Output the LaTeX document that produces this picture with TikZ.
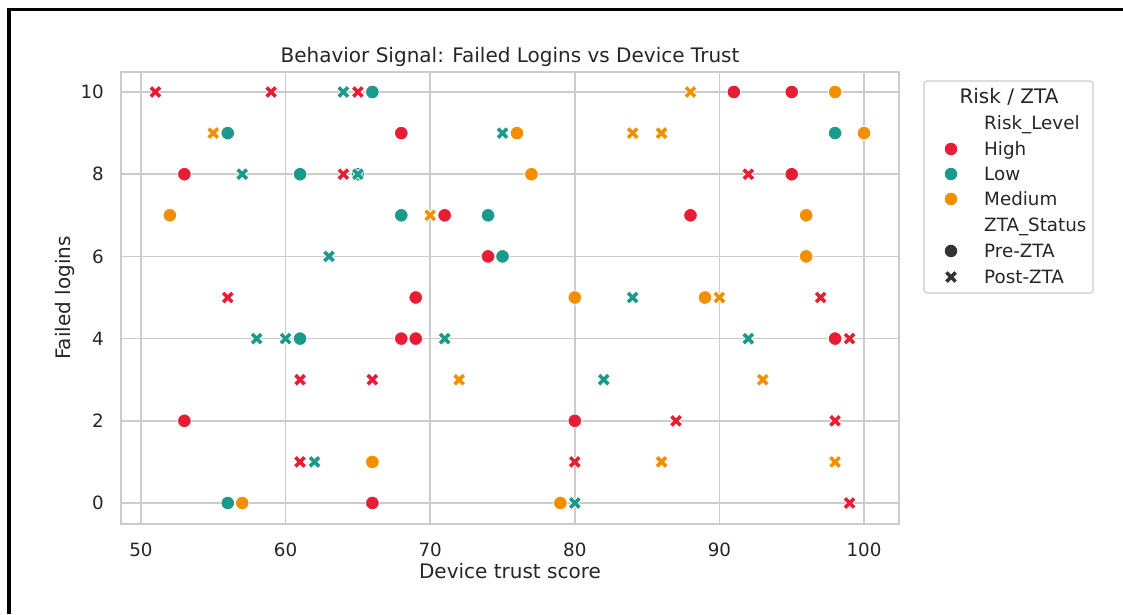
\documentclass[tikz,border=0pt]{standalone}
\usepackage{fontspec}
\setmainfont{DejaVu Sans}
\definecolor{hi}{HTML}{E71D36}
\definecolor{lo}{HTML}{1B998B}
\definecolor{me}{HTML}{F18F01}
\definecolor{txt}{HTML}{262626}
\definecolor{grd}{HTML}{CCCCCC}
\definecolor{lgm}{HTML}{333333}
\newcommand\mkO[3]{\filldraw[fill=#1,draw=white,line width=0.8pt] (#2,#3) circle[radius=6.8pt];}
\newcommand\mkX[3]{\begin{scope}[shift={(#2,#3)}]\filldraw[fill=#1,draw=white,line width=0.8pt] (-3.3pt,-6.6pt) -- (0pt,-3.3pt) -- (3.3pt,-6.6pt) -- (6.6pt,-3.3pt) -- (3.3pt,0pt) -- (6.6pt,3.3pt) -- (3.3pt,6.6pt) -- (0pt,3.3pt) -- (-3.3pt,6.6pt) -- (-6.6pt,3.3pt) -- (-3.3pt,0pt) -- (-6.6pt,-3.3pt) -- cycle;\end{scope}}
\begin{document}
\begin{tikzpicture}[x=1pt,y=-1pt,
  lbl/.style={text=txt, inner sep=0pt, text depth=0pt},
  ticklbl/.style={lbl, font=\fontsize{18.3}{22}\selectfont, text height=13.35pt},
  biglbl/.style={lbl, font=\fontsize{20}{24}\selectfont, text height=14.6pt},
  gridline/.style={draw=grd, line width=1.67pt},
]
\useasboundingbox (0,0) rectangle (1123,614);
\fill[white] (0,0) rectangle (1123,614);
\draw[line width=3.5pt] (9,614) -- (9,9.5) -- (1123,9.5);
% grid
\foreach \px in {141,285.6,430.2,574.8,719.4,864} \draw[gridline] (\px,72) -- (\px,524);
\foreach \py in {92,174.2,256.4,338.6,420.8,503} \draw[gridline] (121,\py) -- (899,\py);
\draw[draw=grd, line width=2pt] (121,72) rectangle (899,524);
% tick labels
\foreach \v/\py in {0/503,2/420.8,4/338.6,6/256.4,8/174.2,10/92}
  \node[ticklbl, anchor=east] (yt\v) at (104,\py) {\v};
\foreach \v/\px in {50/141,60/285.6,70/430.2,80/574.8,90/719.4,100/864}
  \node[ticklbl] (xt\v) at (\px,549.5) {\v};
% titles
\node[biglbl] (title) at (510,55) {Behavior Signal: Failed Logins vs Device Trust};
\node[biglbl] (xlab) at (510,571) {Device trust score};
\node[biglbl, rotate=90] (ylab) at (63,298) {Failed logins};
% data
\begin{scope}[x=14.46pt, y=41.1pt, xshift=-582pt, yshift=-503pt]
% y=10
\mkX{hi}{51}{10}\mkX{hi}{59}{10}\mkX{lo}{64}{10}\mkX{hi}{65}{10}\mkO{lo}{66}{10}
\mkX{me}{88}{10}\mkO{hi}{91}{10}\mkO{hi}{95}{10}\mkO{me}{98}{10}
% y=9
\mkX{me}{55}{9}\mkO{lo}{56}{9}\mkO{hi}{68}{9}\mkX{lo}{75}{9}\mkO{me}{76}{9}
\mkX{me}{84}{9}\mkX{me}{86}{9}\mkO{lo}{98}{9}\mkO{me}{100}{9}
% y=8
\mkO{hi}{53}{8}\mkX{lo}{57}{8}\mkO{lo}{61}{8}\mkX{hi}{64}{8}\mkO{lo}{65}{8}\mkX{lo}{65}{8}
\mkO{me}{77}{8}\mkX{hi}{92}{8}\mkO{hi}{95}{8}
% y=7
\mkO{me}{52}{7}\mkO{lo}{68}{7}\mkX{me}{70}{7}\mkO{hi}{71}{7}\mkO{lo}{74}{7}
\mkO{hi}{88}{7}\mkO{me}{96}{7}
% y=6
\mkX{lo}{63}{6}\mkO{hi}{74}{6}\mkO{lo}{75}{6}\mkO{me}{96}{6}
% y=5
\mkX{hi}{56}{5}\mkO{hi}{69}{5}\mkO{me}{80}{5}\mkX{lo}{84}{5}\mkO{me}{89}{5}
\mkX{me}{90}{5}\mkX{hi}{97}{5}
% y=4
\mkX{lo}{58}{4}\mkX{lo}{60}{4}\mkO{lo}{61}{4}\mkO{hi}{68}{4}\mkO{hi}{69}{4}
\mkX{lo}{71}{4}\mkX{lo}{92}{4}\mkO{hi}{98}{4}\mkX{hi}{99}{4}
% y=3
\mkX{hi}{61}{3}\mkX{hi}{66}{3}\mkX{me}{72}{3}\mkX{lo}{82}{3}\mkX{me}{93}{3}
% y=2
\mkO{hi}{53}{2}\mkO{hi}{80}{2}\mkX{hi}{87}{2}\mkX{hi}{98}{2}
% y=1
\mkX{hi}{61}{1}\mkX{lo}{62}{1}\mkO{me}{66}{1}\mkX{hi}{80}{1}\mkX{me}{86}{1}\mkX{me}{98}{1}
% y=0
\mkO{lo}{56}{0}\mkO{me}{57}{0}\mkO{hi}{66}{0}\mkO{me}{79}{0}\mkX{lo}{80}{0}\mkX{hi}{99}{0}
\end{scope}
% legend
\draw[draw=grd, line width=1.2pt, fill=white, rounded corners=3pt] (924,81) rectangle (1093,293);
\node[biglbl] (lgtitle) at (1009,96) {Risk / ZTA};
\node[ticklbl, anchor=west] (lg1) at (984,123) {Risk\_Level};
\node[ticklbl, anchor=west] (lg2) at (984,149) {High};
\node[ticklbl, anchor=west] (lg3) at (984,174) {Low};
\node[ticklbl, anchor=west] (lg4) at (984,199) {Medium};
\node[ticklbl, anchor=west] (lg5) at (984,225) {ZTA\_Status};
\node[ticklbl, anchor=west] (lg6) at (984,251) {Pre-ZTA};
\node[ticklbl, anchor=west] (lg7) at (984,277) {Post-ZTA};
\mkO{hi}{951}{149}
\mkO{lo}{951}{174}
\mkO{me}{951}{199}
\mkO{lgm}{951}{251}
\mkX{lgm}{951}{277}
\end{tikzpicture}
\end{document}
